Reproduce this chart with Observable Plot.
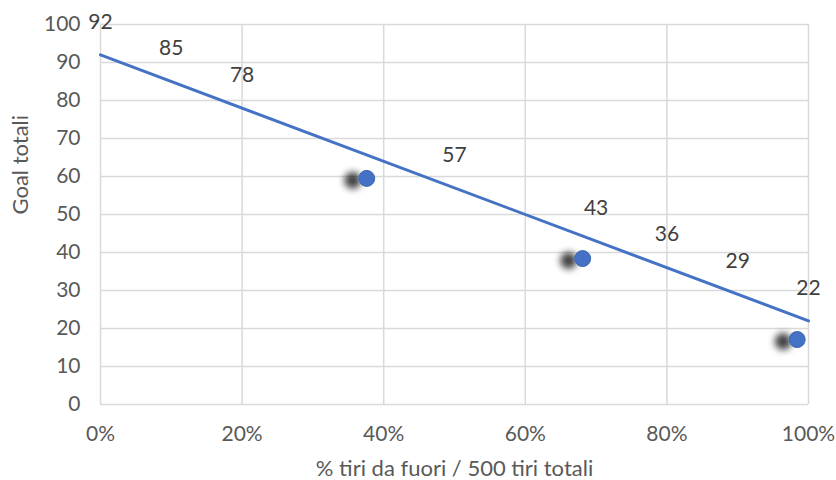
<!DOCTYPE html>
<html>
<head>
<meta charset="utf-8">
<script src="https://cdn.jsdelivr.net/npm/d3@7"></script>
<script src="https://cdn.jsdelivr.net/npm/@observablehq/plot@0.6"></script>
<style>
  html, body { margin: 0; padding: 0; background: #fff; }
  #chart { width: 836px; height: 480px; }
</style>
</head>
<body>
<div id="chart"></div>
<script>
// Data
const pointX = [0.376, 0.681, 0.984];
const pointY = [59.5, 38.4, 17.1];
const trendX = [0, 1];
const trendY = [92, 22];
const labelX = [0, 0.1, 0.2, 0.5, 0.7, 0.8, 0.9, 1.0];
const labelY = [92, 85, 78, 57, 43, 36, 29, 22];
const xTicks = [0, 0.2, 0.4, 0.6, 0.8, 1.0];
const yTicks = [0, 10, 20, 30, 40, 50, 60, 70, 80, 90, 100];
const xTitle = "% tiri da fuori / 500 tiri totali";
const yTitle = "Goal totali";

const points = pointX.map((x, i) => ({x, y: pointY[i]}));
const trend = trendX.map((x, i) => ({x, y: trendY[i]}));
const labels = labelX.map((x, i) => ({x, y: labelY[i]}));

const chart = Plot.plot({
  width: 836,
  height: 480,
  marginLeft: 100,
  marginRight: 28,
  marginTop: 24,
  marginBottom: 76,
  style: {fontFamily: "Lato, 'Open Sans', sans-serif", fontSize: "21px", color: "#595959", background: "#fff"},
  x: {domain: [0, 1], label: null},
  y: {domain: [0, 100], label: null},
  marks: [
    Plot.gridX(xTicks, {stroke: "#d9d9d9", strokeOpacity: 1, strokeWidth: 1.5}),
    Plot.gridY(yTicks, {stroke: "#d9d9d9", strokeOpacity: 1, strokeWidth: 1.5}),
    Plot.axisX({ticks: xTicks, tickSize: 0, tickPadding: 22, tickFormat: d => Math.round(d * 100) + "%", label: null, fill: "#595959", fontSize: 21}),
    Plot.axisY({ticks: yTicks, tickSize: 0, tickPadding: 20, label: null, fill: "#595959", fontSize: 21}),
    Plot.text([xTitle], {frameAnchor: "bottom", dy: 71, fill: "#595959", fontSize: 22}),
    Plot.text([yTitle], {frameAnchor: "left", rotate: -90, dx: -80, fill: "#595959", fontSize: 22}),
    Plot.line(trend, {x: "x", y: "y", stroke: "#4472C4", strokeWidth: 3}),
    Plot.dot(points, {x: "x", y: "y", r: 8, fill: "#4472C4", stroke: "#3a64b0", strokeWidth: 1}),
    Plot.text(labels, {x: "x", y: "y", text: d => String(d.y), dy: -33, fill: "#404040", fontSize: 21})
  ]
});

// Soft shadow to the left of the markers, as in the reference
const svgNS = "http://www.w3.org/2000/svg";
const defs = document.createElementNS(svgNS, "defs");
defs.innerHTML = '<filter id="sh" x="-200%" y="-100%" width="400%" height="300%"><feDropShadow dx="-14" dy="2" stdDeviation="3.5" flood-color="#000" flood-opacity="0.75"/></filter>';
chart.insertBefore(defs, chart.firstChild);
const dotG = chart.querySelector('g[aria-label="dot"]');
if (dotG) dotG.setAttribute("filter", "url(#sh)");

document.getElementById("chart").appendChild(chart);
</script>
</body>
</html>
